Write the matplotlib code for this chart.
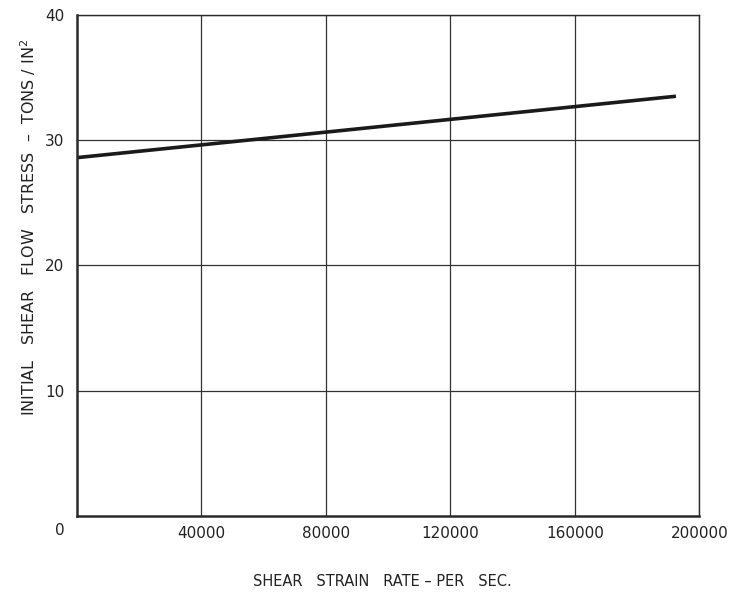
import numpy as np
import matplotlib.pyplot as plt

# Data (straight line)
strain_rate = [0, 192500]
flow_stress = [28.6, 33.5]

x_ticks = [40000, 80000, 120000, 160000, 200000]
x_tick_labels = ['40000', '80000', '120000', '160000', '200000']
y_ticks = [10, 20, 30, 40]
y_tick_labels = ['10', '20', '30', '40']

fig = plt.figure(figsize=(7.33, 5.93), dpi=100)
ax = fig.add_axes([0.105, 0.13, 0.849, 0.845])

ax.plot(strain_rate, flow_stress, color='#1a1a1a', lw=2.6, solid_capstyle='butt')

ax.set_xlim(0, 200000)
ax.set_ylim(0, 40)
ax.set_xticks(x_ticks)
ax.set_xticklabels(x_tick_labels)
ax.set_yticks(y_ticks)
ax.set_yticklabels(y_tick_labels)
ax.tick_params(length=0, labelsize=11, colors='#222222')
ax.tick_params(axis='x', pad=7)
ax.tick_params(axis='y', pad=9)
ax.grid(True, color='#333333', lw=0.9)
ax.set_axisbelow(True)
for s in ax.spines.values():
    s.set_linewidth(1.8)
    s.set_color('#2a2a2a')
ax.spines['right'].set_linewidth(1.0)
ax.spines['top'].set_linewidth(1.0)

# origin label sits at the lower-left corner
ax.text(-0.027, -0.015, '0', transform=ax.transAxes, ha='center', va='top',
        fontsize=11, color='#222222')

ax.set_xlabel('SHEAR   STRAIN   RATE \u2013 PER   SEC.', fontsize=10.5, color='#222222')
ax.xaxis.set_label_coords(0.49, -0.115)
ax.set_ylabel('INITIAL   SHEAR   FLOW   STRESS  \u2013  TONS / IN$^2$', fontsize=11.5,
              color='#222222')
ax.yaxis.set_label_coords(-0.062, 0.575)

fig.savefig('out.png', dpi=100)
